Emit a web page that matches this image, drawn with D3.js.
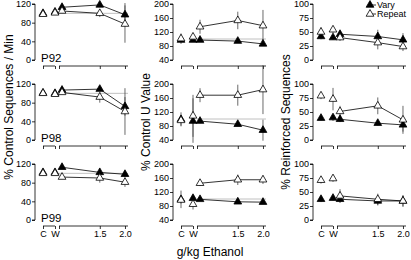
<!DOCTYPE html>
<html><head><meta charset="utf-8">
<script src="https://cdn.jsdelivr.net/npm/d3@7"></script>
<style>body{margin:0;background:#fff}svg{display:block}text{font-family:"Liberation Sans",Arial,Helvetica,sans-serif;fill:#000}</style>
</head><body><div id="chart"></div>
<script>
const subjects = ["P92", "P98", "P99"];
const phases = ["C", "W"];
const doses = [0.75, 1.5, 2.0];
const doseTicks = [1.5, 2.0];
const doseTickLabels = ["1.5", "2.0"];
const measures = ["% Control Sequences / Min", "% Control U Value", "% Reinforced Sequences"];
const yDomains = [[0, 120], [40, 200], [0, 100]];
const yTicks = [[0, 40, 80, 120], [40, 80, 120, 160, 200], [0, 25, 50, 75, 100]];
const refLines = [100, 100, null];
const seriesNames = ["Vary", "Repeat"];
const xTitle = "g/kg Ethanol";

// values: [C, W, 0.75, 1.5, 2.0]
const seqVary   = [[100,103,113,118,97],[101,100,107,109,72],[102,102,113,102,98]];
const seqVaryE  = [[4,3,6,4,25],[3,3,4,4,20],[5,4,4,8,6]];
const seqRep    = [[98,101,105,100,77],[100,98,102,92,61],[100,100,92,90,81]];
const seqRepE   = [[4,3,4,8,40],[3,3,4,12,50],[4,3,4,10,10]];
const uVary     = [[97,97,97,94,86],[99,94,94,85,68],[99,102,99,92,91]];
const uVaryE    = [[6,4,4,4,4],[20,65,6,4,30],[25,8,4,4,4]];
const uRep      = [[101,106,135,153,138],[96,109,168,168,184],[97,85,145,155,155]];
const uRepE     = [[15,10,20,25,45],[15,60,20,30,70],[10,15,8,15,12]];
const rVary     = [[42,40,46,42,36],[39,40,37,30,27],[37,39,37,34,34]];
const rVaryE    = [[5,4,6,12,12],[4,6,5,4,12],[5,4,6,8,10]];
const rRep      = [[50,54,40,31,24],[79,73,51,61,36],[71,74,43,37,34]];
const rRepE     = [[8,6,6,12,8],[6,20,10,15,25],[6,6,12,10,10]];

const vary = [seqVary, uVary, rVary], varyE = [seqVaryE, uVaryE, rVaryE];
const rep = [seqRep, uRep, rRep], repE = [seqRepE, uRepE, rRepE];

const W = 411, H = 260;
const svg = d3.select("#chart").append("svg").attr("width", W).attr("height", H);

const colX = d3.scaleOrdinal().domain([0,1,2]).range([35, 173, 313]);
const rowY = d3.scaleOrdinal().domain([0,1,2]).range([0, 80, 160]);
const xPhase = d3.scalePoint().domain(phases).range([8, 20]);
const xDose = d3.scaleLinear().domain([0.69, 2.06]).range([24, 93]);
const tri = d3.symbol().type(d3.symbolTriangle).size(26);

for (let c = 0; c < 3; c++) {
  for (let r = 0; r < 3; r++) {
    const g = svg.append("g").attr("transform", `translate(${colX(c)},${rowY(r)})`);
    const y = d3.scaleLinear().domain(yDomains[c]).range([60, 4]);
    const ya = g.append("g").call(d3.axisLeft(y).tickValues(yTicks[c]).tickSize(3).tickPadding(1).tickFormat(d3.format("d")));
    ya.select(".domain").attr("d", `M-3,${y(yDomains[c][0])}H0V${y(yDomains[c][1])}H-3`).attr("stroke", "#000").attr("stroke-width", 0.8);
    ya.selectAll(".tick line").attr("stroke-width", 0.8);
    ya.selectAll("text").style("font-size", "9px").attr("fill", "#222");
    const xa1 = g.append("g").attr("transform", "translate(0,66)").call(d3.axisBottom(xPhase).tickSize(3).tickPadding(2));
    xa1.select(".domain").attr("d", `M${xPhase("C")},0H${xPhase("W")}`).attr("stroke-width", 0.8);
    xa1.selectAll(".tick line").attr("stroke-width", 0.8);
    const xa2 = g.append("g").attr("transform", "translate(0,66)").call(d3.axisBottom(xDose).tickValues([0.69].concat(doseTicks)).tickSize(3).tickPadding(2).tickFormat((d) => { const i = doseTicks.indexOf(d); return i >= 0 ? doseTickLabels[i] : ""; }));
    xa2.select(".domain").attr("d", `M${xDose(0.69)},0H${xDose(2.06)}`).attr("stroke-width", 0.8);
    xa2.selectAll(".tick line").attr("stroke-width", 0.8);
    [xa1, xa2].forEach(a => a.selectAll("text").style("font-size", "9px").attr("fill", "#222").style("display", r === 2 ? null : "none"));
    if (refLines[c] !== null) {
      g.append("line").attr("x1", xDose(0.69)).attr("x2", xDose(2.06)).attr("y1", y(refLines[c])).attr("y2", y(refLines[c])).attr("stroke", "#b0b0b0").attr("stroke-width", 0.8);
    }
    if (c === 0) g.append("text").attr("x", 6).attr("y", 61.5).style("font-size", "11.5px").text(subjects[r]);

    const xs = [xPhase("C"), xPhase("W")].concat(doses.map(xDose));
    const sets = [
      {vals: vary[c][r], errs: varyE[c][r], fill: "#000"},
      {vals: rep[c][r], errs: repE[c][r], fill: "#fff"}
    ];
    sets.forEach(s => {
      s.vals.forEach((v, i) => {
        const lo = Math.max(v - s.errs[i], yDomains[c][0] - 8);
        g.append("line").attr("x1", xs[i]).attr("x2", xs[i]).attr("y1", y(v + s.errs[i])).attr("y2", y(lo)).attr("stroke", "#444").attr("stroke-width", 0.8);
      });
    });
    sets.forEach(s => {
      const pts = doses.map((d, i) => [xDose(d), y(s.vals[i + 2])]);
      g.append("path").attr("d", d3.line()(pts)).attr("fill", "none").attr("stroke", "#000").attr("stroke-width", 0.8);
    });
    sets.forEach(s => {
      s.vals.forEach((v, i) => {
        g.append("path").attr("d", tri).attr("transform", `translate(${xs[i]},${y(v)})`).attr("fill", s.fill).attr("stroke", "#000").attr("stroke-width", 0.8);
      });
    });
  }
}

const titleX = [9, 146, 286], titleY = [107, 122, 122];
measures.forEach((m, c) => {
  svg.append("text").attr("transform", `translate(${titleX[c] + 4},${titleY[c]}) rotate(-90)`).attr("text-anchor", "middle").style("font-size", "12px").text(m);
});
svg.append("text").attr("x", 210).attr("y", 256).attr("text-anchor", "middle").style("font-size", "12px").text(xTitle);

const lg = svg.append("g").attr("transform", "translate(366,5)");
seriesNames.forEach((n, i) => {
  const row = lg.append("g").attr("transform", `translate(0,${i * 9})`);
  row.append("line").attr("x1", 2).attr("x2", 10).attr("y1", 0).attr("y2", 0).attr("stroke", "#000").attr("stroke-width", 0.8);
  row.append("path").attr("d", tri).attr("transform", "translate(4,0)").attr("fill", i === 0 ? "#000" : "#fff").attr("stroke", "#000").attr("stroke-width", 0.8);
  row.append("text").attr("x", 11).attr("y", 3.2).style("font-size", "9px").text(n);
});
</script></body></html>
